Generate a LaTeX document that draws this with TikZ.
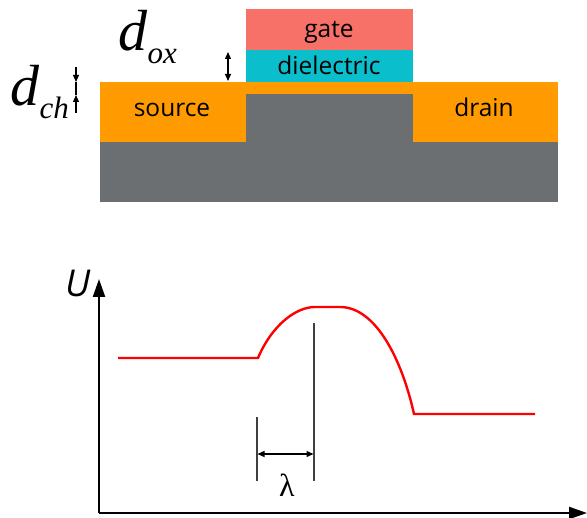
\documentclass[tikz,border=0pt]{standalone}
\usepackage{fontspec}
\setmainfont{Open Sans}
\newfontfamily\symfont{Liberation Serif}
\usetikzlibrary{arrows.meta}
\definecolor{gatecol}{HTML}{F87168}
\definecolor{dielcol}{HTML}{0ABECC}
\definecolor{contcol}{HTML}{FF9B00}
\definecolor{subcol}{HTML}{6C6F71}
\begin{document}
\begin{tikzpicture}[
    x=1pt, y=-1pt,
    slab/.style={inner sep=0pt, outer sep=0pt, anchor=north west},
    label/.style={anchor=base, font=\fontsize{24.5}{24.5}\selectfont, text=black},
    gap/.style={draw=black, line width=1.2pt, {Triangle[length=7pt,width=6pt]}-{Triangle[length=7pt,width=6pt]}},
    onetip/.style={draw=black, line width=1.2pt, -{Triangle[length=7pt,width=6pt]}},
    tick/.style={draw=black!75, line width=1.3pt},
    axis/.style={draw=black, line width=2.2pt, -{Triangle[length=18pt,width=12pt]}},
    curve/.style={draw=red, line width=2.4pt}]
    \useasboundingbox (0,0) rectangle (587,518);

    \node[slab, fill=subcol, minimum width=458pt, minimum height=120pt] (sub) at (100,82) {};
    \node[slab, fill=contcol, minimum width=458pt, minimum height=12pt] (chan) at (100,82) {};
    \node[slab, fill=contcol, minimum width=146pt, minimum height=60pt] (src) at (100,82) {};
    \node[slab, fill=contcol, minimum width=145pt, minimum height=60pt] (drn) at (413,82) {};
    \node[slab, fill=dielcol, minimum width=167pt, minimum height=32pt] (diel) at (246,50) {};
    \node[slab, fill=gatecol, minimum width=167pt, minimum height=41pt] (gate) at (246,9) {};

    \node[label] (tsrc) at (172,117) {source};
    \node[label] (tdrn) at (484,117) {drain};
    \node[label] (tdiel) at (329,75) {dielectric};
    \node[label] (tgate) at (329,38) {gate};

    \node[anchor=base west, font=\symfont\itshape\fontsize{58}{58}\selectfont] (dox) at (115,51) {d};
    \node[anchor=base west, font=\symfont\itshape\fontsize{31}{31}\selectfont] (oxs) at (144,64) {ox};
    \node[anchor=base west, font=\symfont\itshape\fontsize{58}{58}\selectfont] (dch) at (7,106) {d};
    \node[anchor=base west, font=\symfont\itshape\fontsize{31}{31}\selectfont] (chs) at (36,119) {ch};

    \coordinate (g1) at (228,52);
    \coordinate (g2) at (228,81);
    \draw[gap] (g1)--(g2);

    \coordinate (c1) at (76,67);
    \coordinate (c2) at (76,82);
    \coordinate (c3) at (76,95);
    \coordinate (c4) at (76,113);
    \draw[onetip] (c1)--(c2);
    \draw[draw=black, line width=1.2pt] (c2)--(c3);
    \draw[onetip] (c4)--(c3);

    \coordinate (o) at (99,513);
    \coordinate (ytop) at (99,279);
    \coordinate (xend) at (587,513);
    \draw[axis] (o)--(ytop);
    \draw[axis] (o)--(xend);
    \node[font=\itshape\fontsize{37}{37}\selectfont] (ulab) at (78,283) {U};

    \coordinate (u0) at (118,358);
    \coordinate (u1) at (258,358);
    \coordinate (u2) at (315,307);
    \coordinate (u3) at (340,307);
    \coordinate (u4) at (414,414);
    \coordinate (u5) at (535,414);
    \draw[curve] (u0)--(u1) .. controls (272,325) and (296,307) .. (u2)
        --(u3) .. controls (376,307) and (402,360) .. (u4)--(u5);

    \coordinate (t1a) at (257,417);
    \coordinate (t1b) at (257,481);
    \coordinate (t2a) at (314,323);
    \coordinate (t2b) at (314,481);
    \draw[tick] (t1a)--(t1b);
    \draw[tick] (t2a)--(t2b);
    \coordinate (l1) at (257.5,454);
    \coordinate (l2) at (313.5,454);
    \draw[gap] (l1)--(l2);
    \node[font=\symfont\fontsize{32}{32}\selectfont] (lam) at (287,485) {λ};
\end{tikzpicture}
\end{document}
